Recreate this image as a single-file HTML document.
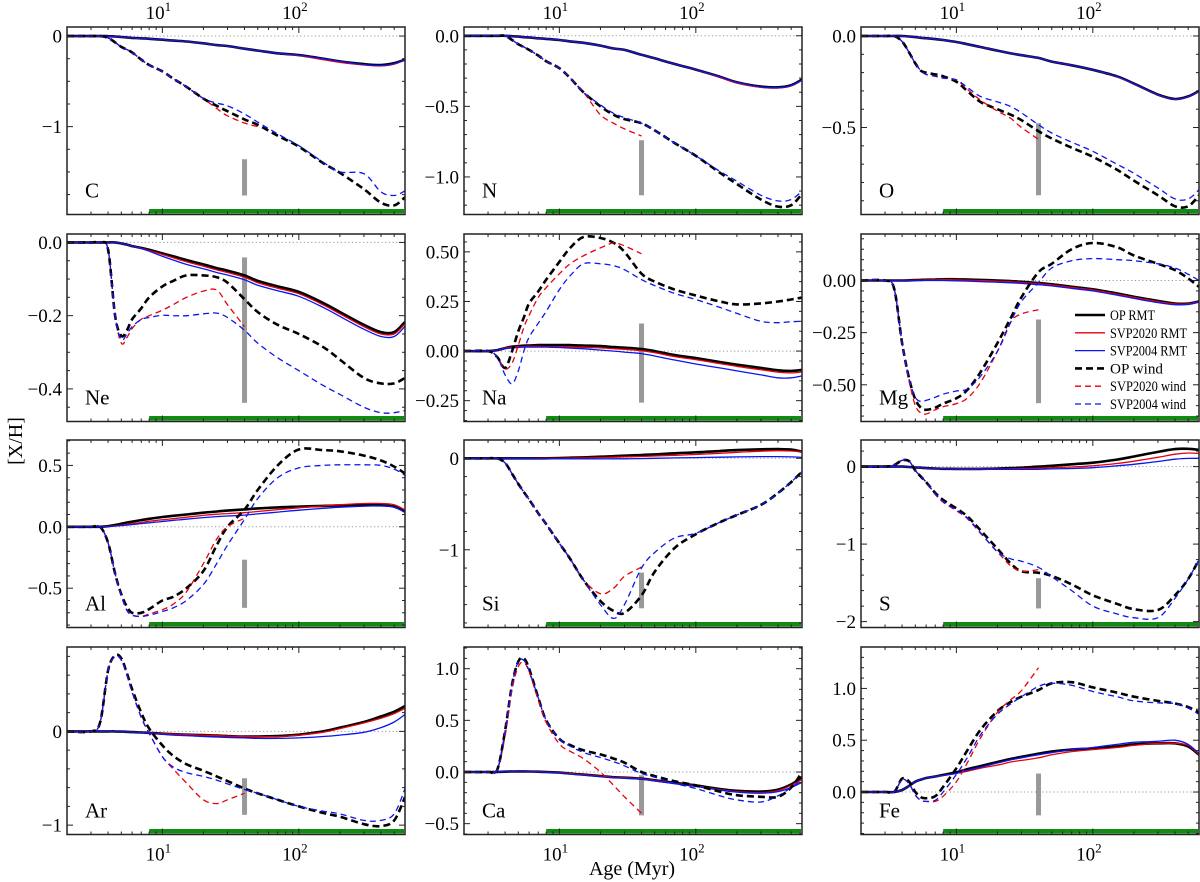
<!DOCTYPE html>
<html><head><meta charset="utf-8"><style>
html,body{margin:0;padding:0;background:#fff}
svg{display:block;font-family:"Liberation Serif","DejaVu Serif",serif}
</style></head><body>
<svg id="chart" width="1200" height="882" viewBox="0 0 1200 882" xmlns="http://www.w3.org/2000/svg">
<text x="0" y="0" transform="translate(22,441) rotate(-90)" text-anchor="middle" font-size="20">[X/H]</text>
<text x="632" y="875" text-anchor="middle" font-size="20">Age (Myr)</text>
</svg>
<script>
const AGES=[2,3,3.5,4,4.5,5,5.5,6,7,8,10,12,15,20,25,30,40,50,70,100,150,200,300,400,500,600];
const N_=null;
// C
const cOpRmt=[0,0,0,0,-0.005,-0.01,-0.015,-0.02,-0.025,-0.03,-0.04,-0.05,-0.06,-0.08,-0.1,-0.11,-0.14,-0.16,-0.19,-0.21,-0.25,-0.28,-0.31,-0.32,-0.3,-0.26];
const cS20Rmt=[0,0,0,0,-0.005,-0.01,-0.015,-0.02,-0.025,-0.03,-0.04,-0.05,-0.06,-0.08,-0.1,-0.11,-0.14,-0.16,-0.19,-0.215,-0.26,-0.29,-0.32,-0.33,-0.31,-0.26];
const cS04Rmt=[0,0,0,0,-0.005,-0.01,-0.015,-0.02,-0.025,-0.03,-0.04,-0.05,-0.06,-0.08,-0.1,-0.11,-0.14,-0.16,-0.19,-0.21,-0.25,-0.28,-0.315,-0.325,-0.305,-0.26];
const cOpWind=[0,0,0,-0.02,-0.07,-0.12,-0.15,-0.18,-0.26,-0.32,-0.39,-0.47,-0.56,-0.69,-0.77,-0.83,-0.92,-0.98,-1.1,-1.22,-1.4,-1.51,-1.69,-1.84,-1.87,-1.78];
const cS20Wind=[0,0,0,-0.02,-0.07,-0.12,-0.15,-0.18,-0.26,-0.32,-0.39,-0.47,-0.56,-0.69,-0.8,-0.88,-0.96,-1.0,N_,N_,N_,N_,N_,N_,N_,N_];
const cS04Wind=[0,0,0,-0.02,-0.07,-0.12,-0.15,-0.18,-0.26,-0.32,-0.39,-0.47,-0.56,-0.69,-0.74,-0.77,-0.86,-0.95,-1.08,-1.21,-1.39,-1.5,-1.52,-1.72,-1.76,-1.71];
// N
const nOpRmt=[0,0,0,0,-0.003,-0.006,-0.01,-0.012,-0.018,-0.022,-0.03,-0.04,-0.05,-0.07,-0.09,-0.1,-0.135,-0.16,-0.2,-0.24,-0.29,-0.33,-0.36,-0.365,-0.35,-0.31];
const nS20Rmt=[0,0,0,0,-0.003,-0.006,-0.01,-0.012,-0.018,-0.022,-0.03,-0.04,-0.05,-0.07,-0.09,-0.1,-0.135,-0.16,-0.2,-0.24,-0.295,-0.335,-0.365,-0.37,-0.355,-0.315];
const nS04Rmt=[0,0,0,0,-0.003,-0.006,-0.01,-0.012,-0.018,-0.022,-0.03,-0.04,-0.05,-0.07,-0.09,-0.1,-0.135,-0.16,-0.2,-0.24,-0.29,-0.33,-0.362,-0.368,-0.352,-0.312];
const nOpWind=[0,0,0,0,-0.03,-0.06,-0.08,-0.1,-0.14,-0.18,-0.23,-0.3,-0.4,-0.5,-0.56,-0.59,-0.62,-0.67,-0.76,-0.85,-0.97,-1.05,-1.16,-1.21,-1.2,-1.12];
const nS20Wind=[0,0,0,0,-0.03,-0.06,-0.08,-0.1,-0.14,-0.18,-0.23,-0.3,-0.4,-0.56,-0.62,-0.66,-0.71,N_,N_,N_,N_,N_,N_,N_,N_,N_];
const nS04Wind=[0,0,0,0,-0.03,-0.06,-0.08,-0.1,-0.14,-0.18,-0.23,-0.3,-0.4,-0.49,-0.55,-0.58,-0.62,-0.67,-0.76,-0.85,-0.96,-1.03,-1.13,-1.17,-1.16,-1.1];
// O
const oOpRmt=[0,0,0,0,-0.003,-0.006,-0.01,-0.012,-0.017,-0.022,-0.033,-0.045,-0.06,-0.08,-0.095,-0.105,-0.12,-0.14,-0.16,-0.185,-0.22,-0.26,-0.32,-0.344,-0.33,-0.3];
const oS20Rmt=[0,0,0,0,-0.003,-0.006,-0.01,-0.012,-0.017,-0.022,-0.033,-0.045,-0.06,-0.08,-0.095,-0.105,-0.12,-0.14,-0.16,-0.185,-0.222,-0.262,-0.322,-0.346,-0.332,-0.302];
const oS04Rmt=[0,0,0,0,-0.003,-0.006,-0.01,-0.012,-0.017,-0.022,-0.033,-0.045,-0.06,-0.08,-0.095,-0.105,-0.12,-0.14,-0.16,-0.185,-0.221,-0.261,-0.321,-0.345,-0.331,-0.301];
const oOpWind=[0,0,0,-0.03,-0.09,-0.15,-0.19,-0.2,-0.21,-0.22,-0.25,-0.3,-0.36,-0.4,-0.43,-0.46,-0.52,-0.56,-0.61,-0.66,-0.73,-0.79,-0.87,-0.93,-0.93,-0.87];
const oS20Wind=[0,0,0,-0.03,-0.09,-0.15,-0.19,-0.21,-0.22,-0.23,-0.24,-0.29,-0.35,-0.41,-0.45,-0.5,-0.565,N_,N_,N_,N_,N_,N_,N_,N_,N_];
const oS04Wind=[0,0,0,-0.03,-0.09,-0.15,-0.19,-0.21,-0.22,-0.23,-0.24,-0.28,-0.33,-0.36,-0.385,-0.42,-0.485,-0.53,-0.58,-0.63,-0.7,-0.75,-0.83,-0.89,-0.89,-0.84];
// Ne
const neOpRmt=[0,0,0,0,0,-0.003,-0.006,-0.01,-0.015,-0.02,-0.03,-0.038,-0.048,-0.06,-0.07,-0.077,-0.09,-0.105,-0.12,-0.135,-0.165,-0.19,-0.225,-0.245,-0.245,-0.217];
const neS20Rmt=[0,0,0,0,0,-0.003,-0.006,-0.01,-0.016,-0.022,-0.033,-0.042,-0.053,-0.065,-0.075,-0.082,-0.095,-0.11,-0.125,-0.14,-0.17,-0.195,-0.23,-0.25,-0.25,-0.222];
const neS04Rmt=[0,0,0,0,0,-0.003,-0.006,-0.01,-0.017,-0.024,-0.038,-0.048,-0.06,-0.072,-0.082,-0.089,-0.102,-0.117,-0.132,-0.147,-0.177,-0.202,-0.237,-0.257,-0.257,-0.229];
const neOpWind=[0,0,0,-0.02,-0.2,-0.255,-0.24,-0.21,-0.18,-0.15,-0.12,-0.105,-0.09,-0.09,-0.095,-0.11,-0.155,-0.19,-0.225,-0.25,-0.285,-0.32,-0.37,-0.385,-0.385,-0.37];
const neS20Wind=[0,0,0,-0.02,-0.2,-0.275,-0.26,-0.235,-0.21,-0.2,-0.185,-0.17,-0.15,-0.133,-0.13,-0.17,-0.23,N_,N_,N_,N_,N_,N_,N_,N_,N_];
const neS04Wind=[0,0,0,-0.02,-0.2,-0.265,-0.25,-0.23,-0.21,-0.205,-0.199,-0.2,-0.2,-0.195,-0.193,-0.205,-0.24,-0.275,-0.315,-0.35,-0.39,-0.415,-0.45,-0.465,-0.465,-0.459];
// Na
const naOpRmt=[0,0,0.005,0.015,0.022,0.025,0.027,0.028,0.03,0.03,0.03,0.03,0.028,0.025,0.02,0.017,0.01,0.0,-0.02,-0.035,-0.055,-0.068,-0.085,-0.097,-0.1,-0.095];
const naS20Rmt=[0,0,0.005,0.015,0.02,0.022,0.023,0.024,0.024,0.023,0.022,0.021,0.019,0.016,0.012,0.009,0.002,-0.008,-0.028,-0.043,-0.063,-0.077,-0.094,-0.106,-0.11,-0.105];
const naS04Rmt=[0,0,0.005,0.012,0.016,0.018,0.02,0.02,0.02,0.02,0.018,0.015,0.012,0.005,0,-0.005,-0.013,-0.025,-0.045,-0.065,-0.085,-0.1,-0.12,-0.135,-0.135,-0.125];
const naOpWind=[0,0,-0.03,-0.085,0.0,0.1,0.17,0.24,0.3,0.36,0.45,0.52,0.575,0.57,0.545,0.5,0.39,0.35,0.31,0.28,0.25,0.235,0.24,0.25,0.26,0.27];
const naS20Wind=[0,0,-0.03,-0.09,-0.06,0.03,0.12,0.18,0.27,0.32,0.39,0.44,0.48,0.52,0.545,0.53,0.49,N_,N_,N_,N_,N_,N_,N_,N_,N_];
const naS04Wind=[0,0,-0.03,-0.12,-0.165,-0.1,0.0,0.07,0.14,0.2,0.31,0.38,0.44,0.44,0.43,0.41,0.36,0.33,0.29,0.26,0.22,0.19,0.15,0.143,0.148,0.15];
// Mg
const mgOpRmt=[0,0,0,0,0.001,0.002,0.003,0.004,0.005,0.006,0.006,0.005,0.003,0,-0.003,-0.006,-0.012,-0.018,-0.03,-0.042,-0.062,-0.078,-0.098,-0.11,-0.11,-0.1];
const mgS20Rmt=[0,0,0,0,0.001,0.002,0.002,0.003,0.003,0.004,0.003,0.002,0,-0.003,-0.006,-0.009,-0.015,-0.021,-0.033,-0.045,-0.065,-0.081,-0.101,-0.112,-0.112,-0.1];
const mgS04Rmt=[0,0,0,0,0,0,0,0,0,0,-0.002,-0.003,-0.005,-0.008,-0.011,-0.014,-0.02,-0.026,-0.038,-0.05,-0.07,-0.086,-0.106,-0.116,-0.115,-0.104];
const mgOpWind=[0,0,-0.04,-0.3,-0.47,-0.57,-0.61,-0.62,-0.61,-0.59,-0.565,-0.525,-0.44,-0.3,-0.18,-0.08,0.04,0.08,0.15,0.18,0.16,0.12,0.08,0.05,0.01,-0.03];
const mgS20Wind=[0,0,-0.04,-0.3,-0.48,-0.6,-0.635,-0.64,-0.62,-0.605,-0.59,-0.565,-0.49,-0.34,-0.2,-0.16,-0.14,N_,N_,N_,N_,N_,N_,N_,N_,N_];
const mgS04Wind=[0,0,-0.04,-0.3,-0.47,-0.56,-0.58,-0.575,-0.56,-0.545,-0.53,-0.52,-0.46,-0.34,-0.2,-0.1,-0.01,0.06,0.095,0.105,0.1,0.095,0.08,0.06,0.03,0.0];
// Al
const alOpRmt=[0,0,0,0.005,0.015,0.025,0.035,0.042,0.055,0.065,0.08,0.09,0.1,0.115,0.125,0.132,0.142,0.15,0.158,0.164,0.17,0.174,0.176,0.175,0.165,0.125];
const alS20Rmt=[0,0,0,0.003,0.008,0.014,0.02,0.025,0.035,0.045,0.057,0.066,0.078,0.093,0.103,0.108,0.115,0.125,0.14,0.155,0.17,0.18,0.19,0.19,0.18,0.138];
const alS04Rmt=[0,0,0,0.002,0.006,0.01,0.014,0.018,0.026,0.033,0.043,0.052,0.062,0.075,0.083,0.088,0.095,0.105,0.12,0.135,0.15,0.16,0.168,0.17,0.16,0.117];
const alOpWind=[0,0,0,-0.13,-0.38,-0.55,-0.65,-0.7,-0.7,-0.67,-0.6,-0.57,-0.5,-0.36,-0.15,0.0,0.14,0.3,0.5,0.63,0.625,0.615,0.58,0.54,0.49,0.435];
const alS20Wind=[0,0,0,-0.13,-0.38,-0.56,-0.68,-0.72,-0.73,-0.71,-0.675,-0.63,-0.53,-0.3,-0.1,0.0,0.07,N_,N_,N_,N_,N_,N_,N_,N_,N_];
const alS04Wind=[0,0,0,-0.13,-0.38,-0.56,-0.68,-0.72,-0.73,-0.72,-0.69,-0.66,-0.6,-0.47,-0.3,-0.15,0.06,0.23,0.4,0.48,0.5,0.505,0.505,0.5,0.47,0.42];
// Si
const siOpRmt=[0,0,0,0,0,0,0,0,0,0,0.003,0.006,0.01,0.017,0.023,0.028,0.036,0.043,0.055,0.065,0.08,0.09,0.098,0.1,0.095,0.072];
const siS20Rmt=[0,0,0,0,0,0,0,0,0,0,0,0.002,0.004,0.008,0.012,0.015,0.02,0.025,0.033,0.042,0.055,0.065,0.078,0.083,0.08,0.07];
const siS04Rmt=[0,0,0,0,0,0,0,0,-0.002,-0.003,-0.005,-0.006,-0.007,-0.007,-0.006,-0.005,-0.003,0,0.004,0.008,0.012,0.015,0.018,0.018,0.015,0.01];
const siOpWind=[0,0,0,-0.05,-0.17,-0.28,-0.37,-0.45,-0.6,-0.72,-0.93,-1.1,-1.33,-1.56,-1.67,-1.69,-1.5,-1.24,-0.98,-0.83,-0.7,-0.62,-0.51,-0.38,-0.26,-0.146];
const siS20Wind=[0,0,0,-0.05,-0.17,-0.28,-0.37,-0.45,-0.6,-0.72,-0.93,-1.1,-1.33,-1.48,-1.42,-1.29,-1.19,N_,N_,N_,N_,N_,N_,N_,N_,N_];
const siS04Wind=[0,0,0,-0.05,-0.17,-0.28,-0.37,-0.45,-0.6,-0.72,-0.93,-1.1,-1.33,-1.6,-1.75,-1.6,-1.2,-1.03,-0.87,-0.82,-0.7,-0.62,-0.51,-0.38,-0.26,-0.146];
// S
const sOpRmt=[0,0,0,0,-0.005,-0.01,-0.015,-0.02,-0.025,-0.028,-0.03,-0.03,-0.03,-0.025,-0.02,-0.015,0.0,0.01,0.03,0.05,0.09,0.13,0.19,0.225,0.23,0.215];
const sS20Rmt=[0,0,0,0,-0.005,-0.01,-0.015,-0.02,-0.025,-0.028,-0.03,-0.03,-0.03,-0.03,-0.03,-0.025,-0.02,-0.015,-0.005,0.01,0.04,0.07,0.12,0.16,0.175,0.17];
const sS04Rmt=[0,0,0,0,-0.005,-0.01,-0.015,-0.02,-0.025,-0.03,-0.035,-0.035,-0.035,-0.035,-0.035,-0.035,-0.035,-0.03,-0.025,-0.015,0.01,0.03,0.065,0.095,0.105,0.107];
const sOpWind=[0,0,0.02,0.08,0.07,-0.05,-0.13,-0.2,-0.34,-0.43,-0.54,-0.64,-0.82,-1.06,-1.25,-1.35,-1.37,-1.41,-1.52,-1.66,-1.77,-1.84,-1.85,-1.66,-1.45,-1.2];
const sS20Wind=[0,0,0.02,0.08,0.07,-0.05,-0.13,-0.2,-0.36,-0.46,-0.57,-0.67,-0.86,-1.1,-1.28,-1.35,-1.33,N_,N_,N_,N_,N_,N_,N_,N_,N_];
const sS04Wind=[0,0,0.02,0.08,0.07,-0.05,-0.13,-0.2,-0.35,-0.45,-0.56,-0.66,-0.85,-1.1,-1.19,-1.22,-1.3,-1.42,-1.6,-1.8,-1.9,-1.95,-1.95,-1.7,-1.45,-1.2];
// Ar
const arOpRmt=[0,0,0,0,0,-0.002,-0.005,-0.008,-0.012,-0.016,-0.025,-0.03,-0.035,-0.04,-0.045,-0.05,-0.055,-0.055,-0.05,-0.035,0.0,0.04,0.1,0.16,0.21,0.27];
const arS20Rmt=[0,0,0,0,0,-0.002,-0.005,-0.008,-0.012,-0.016,-0.025,-0.03,-0.035,-0.04,-0.045,-0.05,-0.055,-0.057,-0.055,-0.04,-0.01,0.03,0.09,0.14,0.19,0.245];
const arS04Rmt=[0,0,0,0,0,-0.002,-0.005,-0.008,-0.014,-0.02,-0.03,-0.04,-0.045,-0.055,-0.06,-0.065,-0.07,-0.075,-0.075,-0.07,-0.055,-0.04,-0.01,0.04,0.1,0.18];
const arOpWind=[0,0,0.1,0.65,0.81,0.78,0.62,0.45,0.2,0.03,-0.15,-0.26,-0.35,-0.42,-0.48,-0.53,-0.61,-0.66,-0.73,-0.8,-0.87,-0.91,-0.99,-1.01,-0.95,-0.7];
const arS20Wind=[0,0,0.1,0.65,0.8,0.76,0.6,0.42,0.15,-0.02,-0.27,-0.4,-0.55,-0.73,-0.77,-0.73,-0.66,N_,N_,N_,N_,N_,N_,N_,N_,N_];
const arS04Wind=[0,0,0.1,0.65,0.8,0.76,0.6,0.42,0.15,-0.02,-0.27,-0.38,-0.44,-0.48,-0.52,-0.56,-0.62,-0.66,-0.73,-0.8,-0.85,-0.88,-0.95,-0.95,-0.88,-0.61];
// Ca
const caOpRmt=[0,0,0,0.003,0.005,0.006,0.006,0.005,0.003,0.0,-0.006,-0.015,-0.025,-0.04,-0.05,-0.055,-0.065,-0.08,-0.105,-0.13,-0.165,-0.182,-0.19,-0.17,-0.12,-0.05];
const caS20Rmt=[0,0,0,0.003,0.005,0.006,0.006,0.005,0.003,0.0,-0.006,-0.015,-0.025,-0.04,-0.05,-0.055,-0.066,-0.082,-0.108,-0.135,-0.17,-0.19,-0.2,-0.18,-0.13,-0.07];
const caS04Rmt=[0,0,0,0.003,0.005,0.005,0.005,0.004,0.001,-0.002,-0.01,-0.02,-0.03,-0.045,-0.055,-0.06,-0.07,-0.087,-0.113,-0.14,-0.175,-0.195,-0.205,-0.19,-0.15,-0.1];
const caOpWind=[0,0,0.02,0.4,0.85,1.07,1.1,1.0,0.72,0.5,0.32,0.26,0.21,0.17,0.13,0.09,0.0,-0.04,-0.09,-0.13,-0.19,-0.225,-0.24,-0.24,-0.15,0.0];
const caS20Wind=[0,0,0.02,0.35,0.8,1.02,1.06,0.97,0.7,0.48,0.27,0.2,0.13,0.0,-0.13,-0.24,-0.4,N_,N_,N_,N_,N_,N_,N_,N_,N_];
const caS04Wind=[0,0,0.02,0.4,0.85,1.07,1.08,0.98,0.72,0.5,0.32,0.25,0.19,0.14,0.1,0.06,-0.015,-0.05,-0.11,-0.16,-0.23,-0.27,-0.29,-0.23,-0.15,-0.08];
// Fe
const feOpRmt=[0,0,0,0.02,0.06,0.1,0.12,0.135,0.15,0.165,0.19,0.22,0.25,0.29,0.32,0.34,0.37,0.39,0.41,0.42,0.44,0.46,0.47,0.47,0.44,0.36];
const feS20Rmt=[0,0,0,0.02,0.06,0.1,0.12,0.135,0.15,0.16,0.18,0.2,0.23,0.26,0.29,0.305,0.33,0.36,0.39,0.41,0.43,0.45,0.47,0.47,0.45,0.36];
const feS04Rmt=[0,0,0,0.02,0.06,0.1,0.12,0.135,0.15,0.16,0.18,0.21,0.24,0.28,0.31,0.33,0.36,0.38,0.41,0.43,0.46,0.48,0.49,0.5,0.46,0.37];
const feOpWind=[0,0,0,0.13,0.1,0.0,-0.05,-0.06,-0.04,0.05,0.23,0.4,0.6,0.78,0.87,0.92,0.985,1.05,1.06,1.01,0.96,0.92,0.88,0.855,0.82,0.77];
const feS20Wind=[0,0,0,0.12,0.08,-0.03,-0.08,-0.09,-0.09,-0.04,0.1,0.28,0.52,0.77,0.89,0.98,1.2,N_,N_,N_,N_,N_,N_,N_,N_,N_];
const feS04Wind=[0,0,0,0.12,0.08,-0.03,-0.08,-0.09,-0.08,0.0,0.17,0.33,0.55,0.75,0.85,0.92,1.02,1.05,1.03,0.97,0.92,0.88,0.86,0.855,0.81,0.75];

const X_MIN=2, X_MAX=600, GRAY_AGE=40, GREEN_START=8;
const COLS=[67,464,861], ROWS=[27,234,440,647], PW=338, PH=187.5;

const PANELS=[
 {el:'C',c:0,r:0,y:[-1.97,0.1],maj:[0,-1],fmt:0,minor:0.25,gray:[-1.36,-1.76],s:[cOpRmt,cS20Rmt,cS04Rmt,cOpWind,cS20Wind,cS04Wind]},
 {el:'N',c:1,r:0,y:[-1.266,0.062],maj:[0,-0.5,-1],fmt:1,minor:0.1,gray:[-0.74,-1.13],s:[nOpRmt,nS20Rmt,nS04Rmt,nOpWind,nS20Wind,nS04Wind]},
 {el:'O',c:2,r:0,y:[-0.975,0.049],maj:[0,-0.5],fmt:1,minor:0.1,gray:[-0.476,-0.87],s:[oOpRmt,oS20Rmt,oS04Rmt,oOpWind,oS20Wind,oS04Wind]},
 {el:'Ne',c:0,r:1,y:[-0.489,0.023],maj:[0,-0.2,-0.4],fmt:1,minor:0.05,gray:[-0.041,-0.438],s:[neOpRmt,neS20Rmt,neS04Rmt,neOpWind,neS20Wind,neS04Wind]},
 {el:'Na',c:1,r:1,y:[-0.355,0.59],maj:[0.5,0.25,0,-0.25],fmt:2,minor:0.05,gray:[0.139,-0.26],s:[naOpRmt,naS20Rmt,naS04Rmt,naOpWind,naS20Wind,naS04Wind]},
 {el:'Mg',c:2,r:1,y:[-0.676,0.223],maj:[0,-0.25,-0.5],fmt:2,minor:0.05,gray:[-0.187,-0.588],s:[mgOpRmt,mgS20Rmt,mgS04Rmt,mgOpWind,mgS20Wind,mgS04Wind],legend:true},
 {el:'Al',c:0,r:2,y:[-0.82,0.707],maj:[0.5,0,-0.5],fmt:1,minor:0.1,gray:[-0.268,-0.66],s:[alOpRmt,alS20Rmt,alS04Rmt,alOpWind,alS20Wind,alS04Wind]},
 {el:'Si',c:1,r:2,y:[-1.85,0.2],maj:[0,-1],fmt:0,minor:0.2,gray:[-1.25,-1.64],s:[siOpRmt,siS20Rmt,siS04Rmt,siOpWind,siS20Wind,siS04Wind]},
 {el:'S',c:2,r:2,y:[-2.076,0.343],maj:[0,-1,-2],fmt:0,minor:0.2,gray:[-1.44,-1.83],s:[sOpRmt,sS20Rmt,sS04Rmt,sOpWind,sS20Wind,sS04Wind]},
 {el:'Ar',c:0,r:3,y:[-1.10,0.90],maj:[0,-1],fmt:0,minor:0.2,gray:[-0.5,-0.89],s:[arOpRmt,arS20Rmt,arS04Rmt,arOpWind,arS20Wind,arS04Wind]},
 {el:'Ca',c:1,r:3,y:[-0.605,1.21],maj:[1,0.5,0,-0.5],fmt:1,minor:0.1,gray:[-0.032,-0.42],s:[caOpRmt,caS20Rmt,caS04Rmt,caOpWind,caS20Wind,caS04Wind]},
 {el:'Fe',c:2,r:3,y:[-0.41,1.40],maj:[1,0.5,0],fmt:1,minor:0.1,gray:[0.178,-0.225],s:[feOpRmt,feS20Rmt,feS04Rmt,feOpWind,feS20Wind,feS04Wind]}
];
const SERIES_NAMES=['OP RMT','SVP2020 RMT','SVP2004 RMT','OP wind','SVP2020 wind','SVP2004 wind'];
const LEGEND_TEXT_W=[45,77,77,53,76,76];
const STY=[
 {c:'#000',w:2.6,d:''},{c:'#e8000b',w:1.3,d:''},{c:'#0a16f0',w:1.3,d:''},
 {c:'#000',w:2.6,d:'7,4'},{c:'#e8000b',w:1.3,d:'6,4'},{c:'#0a16f0',w:1.3,d:'6,4'}];

const NS='http://www.w3.org/2000/svg';
const svg=document.getElementById('chart');
function mk(t,a,p){const e=document.createElementNS(NS,t);for(const k in a)e.setAttribute(k,a[k]);(p||svg).appendChild(e);return e;}
function fmtv(v,d){let s=Math.abs(v).toFixed(d);return (v<-1e-9?'\u2212':'')+s;}
function smooth(pts){
  if(pts.length<2)return '';
  let d='M'+pts[0][0].toFixed(1)+','+pts[0][1].toFixed(1);
  for(let i=0;i<pts.length-1;i++){
    const p0=pts[i-1]||pts[i],p1=pts[i],p2=pts[i+1],p3=pts[i+2]||p2;
    const c1=[p1[0]+(p2[0]-p0[0])/6,p1[1]+(p2[1]-p0[1])/6];
    const c2=[p2[0]-(p3[0]-p1[0])/6,p2[1]-(p3[1]-p1[1])/6];
    d+='C'+c1[0].toFixed(1)+','+c1[1].toFixed(1)+' '+c2[0].toFixed(1)+','+c2[1].toFixed(1)+' '+p2[0].toFixed(1)+','+p2[1].toFixed(1);
  }
  return d;
}

PANELS.forEach(P=>{
  const L=COLS[P.c],T=ROWS[P.r],R=L+PW,B=T+PH;
  const sx=a=>L+(Math.log10(a)-Math.log10(X_MIN))/(Math.log10(X_MAX)-Math.log10(X_MIN))*PW;
  const sy=v=>T+(P.y[1]-v)/(P.y[1]-P.y[0])*PH;
  const g=mk('g',{});
  
  
  const cid='clip'+P.el;
  const cp=mk('clipPath',{id:cid},g);mk('rect',{x:L,y:T,width:PW,height:PH},cp);
  const z=mk('line',{x1:L,x2:R,y1:sy(0),y2:sy(0),stroke:'#999','stroke-width':1,'stroke-dasharray':'1.2,2.5'},g);
  
  
  const gb=mk('rect',{x:sx(GREEN_START),y:B-5.5,width:R-sx(GREEN_START)-1,height:4.5,fill:'#138a13'},g);
  
  
  const yg1=sy(P.gray[0]),yg2=sy(P.gray[1]);
  const gr=mk('rect',{x:sx(GRAY_AGE)-2.5,y:Math.min(yg1,yg2),width:5,height:Math.abs(yg2-yg1),fill:'#999'},g);
  
  
  const lg=mk('g',{'clip-path':'url(#'+cid+')'},g);
  [0,1,2,3,4,5].forEach(si=>{
    const arr=P.s[si];let segs=[],cur=[];
    AGES.forEach((a,i)=>{const v=arr[i];if(v===null||v===undefined){if(cur.length)segs.push(cur);cur=[];}else cur.push([sx(a),sy(v)]);});
    if(cur.length)segs.push(cur);
    let d=segs.map(smooth).join(' ');
    const st=STY[si];
    const p=mk('path',{d:d,fill:'none',stroke:st.c,'stroke-width':st.w,'stroke-linejoin':'round'},lg);
    if(st.d)p.setAttribute('stroke-dasharray',st.d);
    
    
  });
  const fr=mk('rect',{x:L,y:T,width:PW,height:PH,fill:'none',stroke:'#222','stroke-width':1.5},g);
  
  
  const tk=mk('g',{stroke:'#222','stroke-width':1},g);
  
  
  [1,10,100].forEach(dec=>{for(let m=1;m<10;m++){const a=dec*m;if(a<X_MIN||a>X_MAX)continue;const x=sx(a);const len=(m===1)?6:3;
    mk('line',{x1:x,x2:x,y1:B,y2:B-len},tk);mk('line',{x1:x,x2:x,y1:T,y2:T+len},tk);}});
  const yt=mk('g',{stroke:'#222','stroke-width':1},g);
  
  
  const st0=Math.ceil(P.y[0]/P.minor-1e-6);
  for(let k=st0;k*P.minor<=P.y[1]+1e-9;k++){const v=k*P.minor;const y=sy(v);
    const isM=P.maj.some(m=>Math.abs(m-v)<1e-6);const len=isM?6:3;
    mk('line',{x1:L,x2:L+len,y1:y,y2:y},yt);mk('line',{x1:R,x2:R-len,y1:y,y2:y},yt);}
  P.maj.forEach(v=>{
    const t=mk('text',{x:L-5,y:sy(v)+6.5,'text-anchor':'end','font-size':19},g);
    t.textContent=fmtv(v,P.fmt);
    
    
  });
  const el=mk('text',{x:L+18,y:B-17,'font-size':21},g);
  el.textContent=P.el;
  
  
  if(P.r===0||P.r===3){
    [[10,'1'],[100,'2']].forEach(([a,e])=>{
      const y=P.r===0?T-8:B+26;
      const t=mk('text',{x:sx(a)-4,y:y,'text-anchor':'middle','font-size':19},g);
      t.textContent='10';
      const ts=mk('tspan',{dy:-8,'font-size':13},t);ts.textContent=e;
      
      
    });
  }
  if(P.legend){
    const lgd=mk('g',{},g);
    
    
    SERIES_NAMES.forEach((nm,i)=>{
      const y=315+i*17.8, st=STY[i];
      const ln=mk('line',{x1:1075,x2:1105,y1:y,y2:y,stroke:st.c,'stroke-width':st.w},lgd);
      if(st.d)ln.setAttribute('stroke-dasharray',st.d);
      
      
      const t=mk('text',{x:1110,y:y+5,'font-size':15,textLength:LEGEND_TEXT_W[i],lengthAdjust:'spacingAndGlyphs'},lgd);
      t.textContent=nm;
      
      
    });
  }
});
</script>
</body></html>
